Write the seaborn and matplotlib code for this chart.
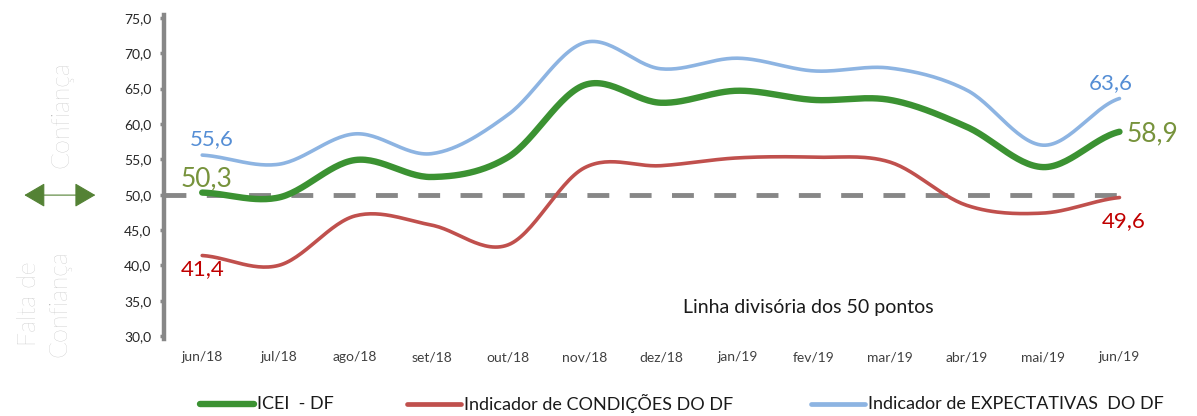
import numpy as np
import pandas as pd
import matplotlib
matplotlib.use("Agg")
import matplotlib.pyplot as plt
from matplotlib.lines import Line2D
from matplotlib.patches import FancyArrowPatch
import seaborn as sns

months = ["jun/18", "jul/18", "ago/18", "set/18", "out/18", "nov/18", "dez/18",
          "jan/19", "fev/19", "mar/19", "abr/19", "mai/19", "jun/19"]
icei = [50.3, 49.6, 54.9, 52.5, 55.3, 65.5, 63.0, 64.7, 63.4, 63.4, 59.6, 53.9, 58.9]
condicoes = [41.4, 40.0, 47.0, 45.7, 42.9, 53.8, 54.1, 55.2, 55.3, 54.6, 48.5, 47.4, 49.6]
expectativas = [55.6, 54.3, 58.6, 55.8, 61.3, 71.5, 67.8, 69.3, 67.5, 67.9, 64.8, 57.0, 63.6]

names = ["ICEI  - DF", "Indicador de CONDIÇÕES DO DF", "Indicador de EXPECTATIVAS  DO DF"]
colors = ["#3b9232", "#c0504d", "#8db4e2"]
label_colors = ["#77933c", "#c00000", "#558ed5"]
widths = [4.6, 2.6, 2.6]

sns.set_theme(style="white")
plt.rcParams['font.family'] = ['Lato', 'DejaVu Sans']


def smooth(y, n=30):
    # catmull-rom style smoothing for the drawn curve (like Excel's smoothed line)
    y = np.asarray(y, dtype=float)
    x = np.arange(len(y), dtype=float)
    p = np.concatenate([[y[0]], y, [y[-1]]])
    xs, ys = [], []
    for i in range(len(y) - 1):
        p0, p1, p2, p3 = p[i], p[i + 1], p[i + 2], p[i + 3]
        t = np.linspace(0, 1, n, endpoint=False)
        c1 = p1 + (p2 - p0) / 6
        c2 = p2 - (p3 - p1) / 6
        yy = (1 - t) ** 3 * p1 + 3 * (1 - t) ** 2 * t * c1 + 3 * (1 - t) * t ** 2 * c2 + t ** 3 * p2
        xs.append(x[i] + t)
        ys.append(yy)
    xs.append([x[-1]])
    ys.append([y[-1]])
    return np.concatenate(xs), np.concatenate(ys)


fig = plt.figure(figsize=(11.97, 4.16), dpi=100)
ax = fig.add_axes([0.137, 0.192, 0.811, 0.765])

ax.axhline(50, color="#878787", lw=3.5, ls=(0, (4.5, 4.2)), zorder=1)

for vals, c, lw in zip([expectativas, condicoes, icei],
                       [colors[2], colors[1], colors[0]],
                       [widths[2], widths[1], widths[0]]):
    sx, sy = smooth(vals)
    df = pd.DataFrame({"x": sx, "y": sy})
    sns.lineplot(data=df, x="x", y="y", ax=ax, color=c, lw=lw,
                 solid_capstyle="round", zorder=3)

ax.set_xlim(-0.5, 12.2)
ax.set_ylim(30, 75)
ax.set_yticks(np.arange(30, 75.1, 5))
ax.set_yticklabels([f"{v:.1f}".replace(".", ",") for v in np.arange(30, 75.1, 5)])
ax.set_xticks(range(len(months)))
ax.set_xticklabels(months)
ax.set_xlabel("")
ax.set_ylabel("")
for s in ["top", "right", "bottom"]:
    ax.spines[s].set_visible(False)
ax.spines["left"].set_color("#878787")
ax.spines["left"].set_linewidth(3.2)
ax.spines["left"].set_bounds(29.6, 75.4)
ax.tick_params(axis="y", which="major", left=True, length=3, width=2.5,
               color="#878787", labelsize=10, labelcolor="#262626", pad=6)
ax.tick_params(axis="x", bottom=False, labelsize=10, labelcolor="#404040", pad=5)

# value labels at the ends
ax.text(0.12, 57.8, "55,6", color=label_colors[2], fontsize=16, ha="center", va="center")
ax.text(0.05, 52.3, "50,3", color=label_colors[0], fontsize=19, ha="center", va="center")
ax.text(0.0, 39.5, "41,4", color=label_colors[1], fontsize=16, ha="center", va="center")
ax.text(11.88, 65.8, "63,6", color=label_colors[2], fontsize=16, ha="center", va="center")
ax.text(12.43, 58.6, "58,9", color=label_colors[0], fontsize=19, ha="center", va="center")
ax.text(12.05, 46.2, "49,6", color=label_colors[1], fontsize=16, ha="center", va="center")

ax.text(7.93, 34.1, "Linha divisória dos 50 pontos", color="#1a1a1a", fontsize=14,
        ha="center", va="center")

# left side annotations
fig.text(0.051, 0.725, "Confiança", rotation=90, color="#b3b3b3", fontsize=18,
         fontweight="light", ha="center", va="center")
fig.text(0.037, 0.27, "Falta de\nConfiança", rotation=90, color="#b3b3b3", fontsize=18,
         fontweight="light", ha="center", va="center", linespacing=1.35)
fig.add_artist(FancyArrowPatch(
    (0.018, 0.531), (0.082, 0.531), transform=fig.transFigure,
    arrowstyle="<|-|>,head_length=6,head_width=3.5", color="#548235", lw=0.8,
    mutation_scale=2.2))

# legend, placed item by item
leg_x = [200, 407, 811]
for i, (nm, c) in enumerate(zip(names, colors)):
    x0 = leg_x[i] / 1197
    fig.add_artist(Line2D([x0, x0 + 54 / 1197], [0.03, 0.03], transform=fig.transFigure,
                          color=c, lw=4.6 if i == 0 else 3.4, solid_capstyle="round"))
    fig.text(x0 + 57 / 1197, 0.03, nm, fontsize=13, color="#1a1a1a",
             ha="left", va="center")

fig.savefig("out.png", dpi=100)
